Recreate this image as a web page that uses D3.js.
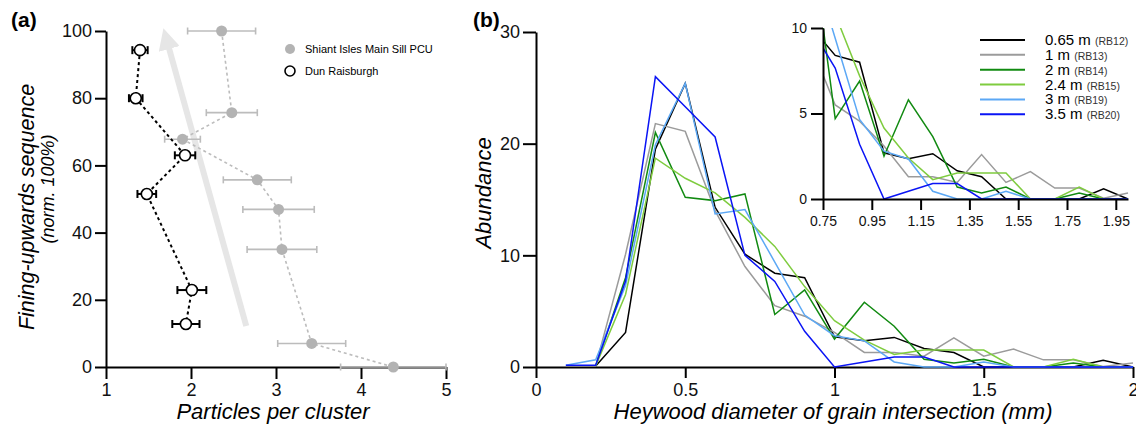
<!DOCTYPE html>
<html>
<head>
<meta charset="utf-8">
<script src="https://cdn.jsdelivr.net/npm/d3@7"></script>
<style>
  body { margin: 0; background: #fff; }
  svg text { font-family: Arial, "Liberation Sans", sans-serif; }
</style>
</head>
<body>
<div id="chart-area"></div>
<script>
// ---- panel (a) data
const shiantY   = [100, 75.7, 67.8, 55.7, 46.9, 35.0, 7.0, 0]
const shiantX   = [2.36, 2.48, 1.90, 2.78, 3.03, 3.07, 3.42, 4.38]
const shiantErr = [0.40, 0.30, 0.21, 0.40, 0.42, 0.41, 0.40, 0.62]

const dunY   = [94.3, 80.0, 63.0, 51.5, 22.9, 12.8]
const dunX   = [1.40, 1.35, 1.93, 1.48, 2.01, 1.94]
const dunErr = [0.09, 0.08, 0.12, 0.11, 0.17, 0.16]

const arrowFrom = [2.65, 12.2]
const arrowTo   = [1.73, 95.9]

const ticksAX = [1, 2, 3, 4, 5]
const ticksAY = [0, 20, 40, 60, 80, 100]

// ---- panel (b) data
const sizeBins = [0.1, 0.2, 0.3, 0.4, 0.5, 0.6, 0.7, 0.8, 0.9, 1.0,
                  1.1, 1.2, 1.3, 1.4, 1.5, 1.6, 1.7, 1.8, 1.9, 2.0]
const rb12 = [null, 0.1, 3.1, 19.5, 25.4, 14.3, 10.1, 8.4, 8.0, 2.7, 2.35, 2.65, 1.65, 1.3, 0, 0, 0, 0, 0.6, 0]
const rb13 = [null, 0.1, 10.1, 21.8, 21.1, 14.0, 9.0, 5.5, 4.55, 3.1, 1.3, 1.3, 0.97, 2.6, 0.97, 1.6, 0.64, 0.64, 0.05, 0.35]
const rb14 = [null, 0.1, 8.0, 21.0, 15.2, 14.9, 15.5, 4.7, 6.9, 2.5, 5.8, 3.65, 0.7, 0.35, 0.7, 0, 0, 0.35, 0, 0]
const rb15 = [null, 0.1, 6.5, 18.7, 16.9, 15.6, 13.4, 10.8, 7.2, 4.15, 2.4, 1.13, 1.52, 1.52, 1.52, 0, 0, 0.7, 0, 0]
const rb19 = [0.15, 0.65, 7.3, 19.9, 25.4, 13.7, 14.1, 9.4, 4.65, 2.8, 2.34, 0.45, 0, 0, 0.45, 0, 0, 0, 0, 0]
const rb20 = [0.15, 0.15, 7.7, 26.0, 23.3, 20.6, 10.0, 7.66, 3.2, 0, 0.45, 0.9, 0.9, 0, 0, 0, 0, 0, 0, 0]

const depthNames  = ["0.65 m", "1 m", "2 m", "2.4 m", "3 m", "3.5 m"]
const sampleNames = ["(RB12)", "(RB13)", "(RB14)", "(RB15)", "(RB19)", "(RB20)"]
const lineColors  = ["#000000", "#9b9b9b", "#118a11", "#7fcc3f", "#5ca8f5", "#0a14f5"]

const ticksBX = [0, 0.5, 1, 1.5, 2]
const ticksBY = [0, 10, 20, 30]
const ticksIX = [0.75, 0.95, 1.15, 1.35, 1.55, 1.75, 1.95]
const ticksIY = [0, 5, 10]

const samples = [rb12, rb13, rb14, rb15, rb19, rb20].map((vals, i) => ({
  name: depthNames[i], sample: sampleNames[i], color: lineColors[i],
  values: sizeBins.map((b, j) => ({ x: b, y: vals[j] }))
}))

const svg = d3.select("#chart-area").append("svg")
  .attr("width", 1136)
  .attr("height", 427)

const styleAxis = (g, size) => {
  g.attr("font-size", size)
  g.select(".domain").attr("stroke-width", 2)
  g.selectAll(".tick line").attr("stroke-width", 2)
  g.selectAll(".tick text").attr("fill", "#111")
}

// =============== panel (a)
const xA = d3.scaleLinear().domain([1, 5]).range([106, 446])
const yA = d3.scaleLinear().domain([0, 100]).range([367, 31])

svg.append("g")
  .attr("transform", "translate(0,367)")
  .call(d3.axisBottom(xA).tickValues(ticksAX).tickFormat(d3.format("d")).tickSize(12).tickSizeOuter(0).tickPadding(4))
  .call(g => styleAxis(g, 18))

svg.append("g")
  .attr("transform", "translate(106,0)")
  .call(d3.axisLeft(yA).tickValues(ticksAY).tickSize(11).tickSizeOuter(0).tickPadding(3))
  .call(g => styleAxis(g, 18))

// fining-upwards arrow
svg.append("defs").append("marker")
  .attr("id", "arrowHead")
  .attr("viewBox", "0 0 10 10")
  .attr("refX", 2).attr("refY", 5)
  .attr("markerWidth", 3.6).attr("markerHeight", 3.6)
  .attr("orient", "auto")
  .append("path").attr("d", "M0,0L10,5L0,10z").attr("fill", "#e6e6e6")

svg.append("line")
  .attr("x1", xA(arrowFrom[0])).attr("y1", yA(arrowFrom[1]))
  .attr("x2", xA(arrowTo[0])).attr("y2", yA(arrowTo[1]))
  .attr("stroke", "#e6e6e6")
  .attr("stroke-width", 6)
  .attr("marker-end", "url(#arrowHead)")

const shiant = shiantY.map((y, i) => ({ x: shiantX[i], y, e: shiantErr[i] }))
const dun = dunY.map((y, i) => ({ x: dunX[i], y, e: dunErr[i] }))

const lineA = d3.line().x(d => xA(d.x)).y(d => yA(d.y))

const drawSeries = (data, col, lw, cap) => {
  svg.append("path")
    .attr("fill", "none")
    .attr("stroke", col)
    .attr("stroke-width", lw)
    .attr("stroke-dasharray", "3,3")
    .attr("d", lineA(data))
  const eb = svg.append("g").attr("stroke", col).attr("stroke-width", lw)
  eb.selectAll(".bar").data(data).join("line")
    .attr("x1", d => xA(d.x - d.e)).attr("x2", d => xA(d.x + d.e))
    .attr("y1", d => yA(d.y)).attr("y2", d => yA(d.y))
  eb.selectAll(".capl").data(data).join("line")
    .attr("x1", d => xA(d.x - d.e)).attr("x2", d => xA(d.x - d.e))
    .attr("y1", d => yA(d.y) - cap).attr("y2", d => yA(d.y) + cap)
  eb.selectAll(".capr").data(data).join("line")
    .attr("x1", d => xA(d.x + d.e)).attr("x2", d => xA(d.x + d.e))
    .attr("y1", d => yA(d.y) - cap).attr("y2", d => yA(d.y) + cap)
}

drawSeries(shiant, "#bcbcbc", 1.6, 3.5)
svg.append("g").selectAll("circle").data(shiant).join("circle")
  .attr("cx", d => xA(d.x)).attr("cy", d => yA(d.y))
  .attr("r", 5.5).attr("fill", "#b3b3b3")

drawSeries(dun, "#000", 2, 4)
svg.append("g").selectAll("circle").data(dun).join("circle")
  .attr("cx", d => xA(d.x)).attr("cy", d => yA(d.y))
  .attr("r", 5.5).attr("fill", "#fff").attr("stroke", "#000").attr("stroke-width", 1.6)

// legend (a)
svg.append("circle").attr("cx", 290).attr("cy", 49).attr("r", 5).attr("fill", "#b3b3b3")
svg.append("text").attr("x", 305).attr("y", 53).attr("font-size", 11).text("Shiant Isles Main Sill PCU")
svg.append("circle").attr("cx", 290).attr("cy", 71).attr("r", 5)
  .attr("fill", "#fff").attr("stroke", "#000").attr("stroke-width", 1.6)
svg.append("text").attr("x", 305).attr("y", 75).attr("font-size", 11).text("Dun Raisburgh")

// titles (a)
svg.append("text").attr("x", 11).attr("y", 27)
  .attr("font-size", 21).attr("font-weight", "bold").text("(a)")
svg.append("text")
  .attr("transform", "translate(34,207) rotate(-90)")
  .attr("text-anchor", "middle").attr("font-size", 21.5).attr("font-style", "italic")
  .text("Fining-upwards sequence")
svg.append("text")
  .attr("transform", "translate(54,189) rotate(-90)")
  .attr("text-anchor", "middle").attr("font-size", 18).attr("font-style", "italic")
  .text("(norm. 100%)")
svg.append("text").attr("x", 273).attr("y", 419)
  .attr("text-anchor", "middle").attr("font-size", 22).attr("font-style", "italic")
  .text("Particles per cluster")

// =============== panel (b) main
const xB = d3.scaleLinear().domain([0, 2]).range([536, 1133])
const yB = d3.scaleLinear().domain([0, 30]).range([367, 32])

svg.append("g")
  .attr("transform", "translate(0,367)")
  .call(d3.axisBottom(xB).tickValues(ticksBX).tickFormat(d3.format("")).tickSize(11).tickSizeOuter(0).tickPadding(5))
  .call(g => styleAxis(g, 18))

svg.append("g")
  .attr("transform", "translate(536,0)")
  .call(d3.axisLeft(yB).tickValues(ticksBY).tickSize(13).tickSizeOuter(0).tickPadding(3))
  .call(g => styleAxis(g, 18))

const lineB = d3.line().defined(d => d.y !== null).x(d => xB(d.x)).y(d => yB(d.y))

svg.append("g").selectAll("path").data(samples).join("path")
  .attr("fill", "none")
  .attr("stroke", d => d.color)
  .attr("stroke-width", 1.5)
  .attr("stroke-linejoin", "miter")
  .attr("d", d => lineB(d.values))

svg.append("text").attr("x", 473).attr("y", 27)
  .attr("font-size", 21).attr("font-weight", "bold").text("(b)")
svg.append("text")
  .attr("transform", "translate(491,193) rotate(-90)")
  .attr("text-anchor", "middle").attr("font-size", 22).attr("font-style", "italic")
  .text("Abundance")
svg.append("text").attr("x", 833).attr("y", 419)
  .attr("text-anchor", "middle").attr("font-size", 22).attr("font-style", "italic")
  .text("Heywood diameter of grain intersection (mm)")

// =============== panel (b) inset
const xI = d3.scaleLinear().domain([0.75, 2]).range([823, 1128])
const yI = d3.scaleLinear().domain([0, 10]).range([199, 28])

svg.append("clipPath").attr("id", "insetClip")
  .append("rect").attr("x", 823).attr("y", 28).attr("width", 306).attr("height", 173)

const lineI = d3.line().defined(d => d.y !== null).x(d => xI(d.x)).y(d => yI(d.y))

svg.append("g").attr("clip-path", "url(#insetClip)")
  .selectAll("path").data(samples).join("path")
  .attr("fill", "none")
  .attr("stroke", d => d.color)
  .attr("stroke-width", 1.5)
  .attr("d", d => lineI(d.values))

svg.append("g")
  .attr("transform", "translate(0,199)")
  .call(d3.axisBottom(xI).tickValues(ticksIX).tickFormat(d3.format(".2f")).tickSize(11).tickSizeOuter(0).tickPadding(6))
  .call(g => styleAxis(g, 14))

svg.append("g")
  .attr("transform", "translate(823,0)")
  .call(d3.axisLeft(yI).tickValues(ticksIY).tickSize(12).tickSizeOuter(0).tickPadding(4))
  .call(g => styleAxis(g, 14))

// legend (b)
const leg = svg.append("g").selectAll("g").data(samples).join("g")
  .attr("transform", (d, i) => `translate(980,${40 + i * 14.85})`)
leg.append("line").attr("x1", 0).attr("x2", 45)
  .attr("stroke", d => d.color).attr("stroke-width", 2)
const legText = leg.append("text").attr("x", 65).attr("y", 5).attr("font-size", 15)
legText.append("tspan").text(d => d.name + " ")
legText.append("tspan").attr("font-size", 10.5).attr("fill", "#333").text(d => d.sample)
</script>
</body>
</html>
